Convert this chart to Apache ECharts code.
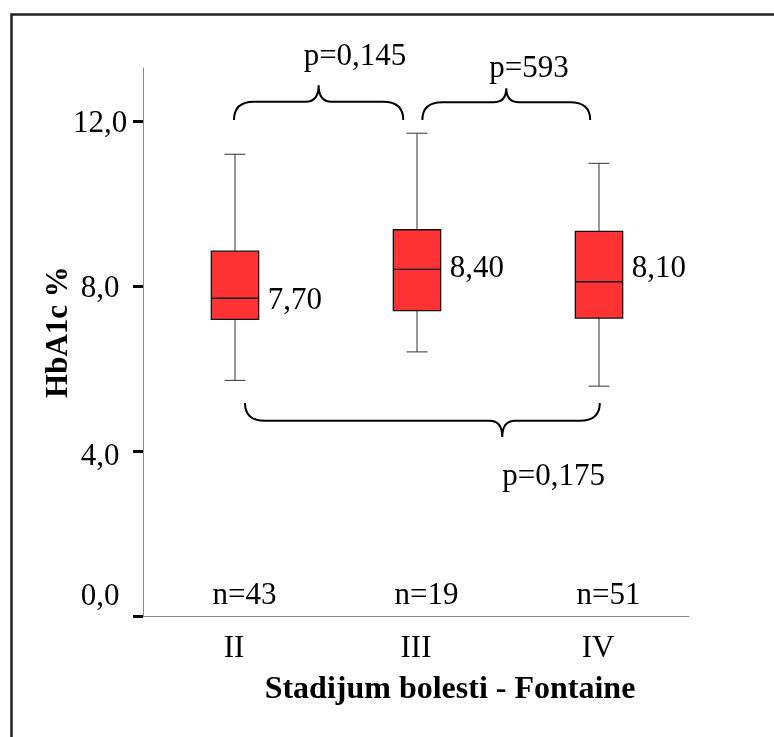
<!DOCTYPE html>
<html><head><meta charset="utf-8">
<script src="https://cdn.jsdelivr.net/npm/echarts@6/dist/echarts.min.js"></script>
<style>html,body{margin:0;padding:0;background:#fff}#c{width:774px;height:737px}</style>
</head><body><div id="c"></div>
<script>
// ---- data ----
const categories = ['II', 'III', 'IV'];
const boxMin = [5.71, 6.40, 5.57];
const boxQ1 = [7.19, 7.40, 7.22];
const boxMedian = [7.70, 8.40, 8.10];
const boxQ3 = [8.84, 9.36, 9.32];
const boxMax = [11.19, 11.70, 10.97];
const groupN = [43, 19, 51];
const yTicks = [0, 4, 8, 12];
const yMax = 13.28;
const pLabels = ['p=0,145', 'p=593', 'p=0,175'];
// brace annotations (category position from/to/tip, value of ends, bar and tip)
const braceFrom = [0.0, 1.035, 0.06];
const braceTo = [0.93, 1.957, 2.01];
const braceTipAt = [0.465, 1.496, 1.474];
const braceEnd = [12.02, 12.02, 5.16];
const braceBar = [12.46, 12.45, 4.73];
const braceTip = [12.86, 12.79, 4.34];

// ---- styles ----
const FONT = "'Liberation Serif','Times New Roman',serif";
const FS = 31;
const medianLabelDy = [3, -1, -13];
const pLabelOffset = [[-15, -28], [-17, -19], [0, 40]];

const fmt = v => v.toFixed(1).replace('.', ',');
const fmt2 = v => v.toFixed(2).replace('.', ',');

const chart = echarts.init(document.getElementById('c'), null, {renderer: 'canvas'});

function renderBox(params, api) {
  const i = api.value(0);
  const band = api.size([1, 0])[0];
  const bw = band * 0.26, cw = band * 0.115;
  const x = api.coord([i, 0])[0] + 1;
  const yMinP = api.coord([i, api.value(1)])[1];
  const yQ1 = api.coord([i, api.value(2)])[1];
  const yMed = api.coord([i, api.value(3)])[1];
  const yQ3 = api.coord([i, api.value(4)])[1];
  const yMaxP = api.coord([i, api.value(5)])[1];
  const wStyle = {stroke: '#333', lineWidth: 1};
  return {
    type: 'group',
    children: [
      {type: 'line', shape: {x1: x, y1: yMaxP, x2: x, y2: yQ3}, style: wStyle},
      {type: 'line', shape: {x1: x, y1: yQ1, x2: x, y2: yMinP}, style: wStyle},
      {type: 'line', shape: {x1: x - cw / 2, y1: yMaxP, x2: x + cw / 2, y2: yMaxP}, style: wStyle},
      {type: 'line', shape: {x1: x - cw / 2, y1: yMinP, x2: x + cw / 2, y2: yMinP}, style: wStyle},
      {type: 'rect', shape: {x: x - bw / 2, y: yQ3, width: bw, height: yQ1 - yQ3},
        style: {fill: '#ff3333', stroke: '#111', lineWidth: 1.3}},
      {type: 'line', shape: {x1: x - bw / 2, y1: yMed, x2: x + bw / 2, y2: yMed}, style: {stroke: '#111', lineWidth: 1.3}},
      {type: 'text', x: x + bw / 2 + 9, y: yMed + medianLabelDy[i],
        style: {text: fmt2(api.value(3)), font: FS + 'px ' + FONT, fill: '#000', align: 'left', verticalAlign: 'middle'}}
    ]
  };
}

function bracePath(x1, x2, xm, yE, yH, yT) {
  const r = 20, t = 13;
  return `M${x1} ${yE} Q${x1} ${yH} ${x1 + r} ${yH} L${xm - t} ${yH} Q${xm} ${yH} ${xm} ${yT} Q${xm} ${yH} ${xm + t} ${yH} L${x2 - r} ${yH} Q${x2} ${yH} ${x2} ${yE}`;
}

function renderBrace(params, api) {
  const k = params.dataIndex;
  const a = api.coord([0, 0]), b = api.coord([1, 0]);
  const catX = f => a[0] + f * (b[0] - a[0]);
  const valY = v => api.coord([0, v])[1];
  const x1 = catX(braceFrom[k]), x2 = catX(braceTo[k]), xm = catX(braceTipAt[k]);
  const yE = valY(braceEnd[k]), yH = valY(braceBar[k]), yT = valY(braceTip[k]);
  return {
    type: 'group',
    children: [
      {type: 'path', shape: {pathData: bracePath(x1, x2, xm, yE, yH, yT)},
        style: {fill: null, stroke: '#000', lineWidth: 2}},
      {type: 'text', x: xm + pLabelOffset[k][0], y: yT + pLabelOffset[k][1],
        style: {text: pLabels[k], font: FS + 'px ' + FONT, fill: '#000', align: 'left', verticalAlign: 'middle'}}
    ]
  };
}

function renderN(params, api) {
  const p = api.coord([api.value(0), 0]);
  return {type: 'text', x: p[0] + 10.5, y: p[1] - 20,
    style: {text: 'n=' + api.value(1), font: FS + 'px ' + FONT, fill: '#000', align: 'center', verticalAlign: 'middle'}};
}

const richBase = {fontFamily: FONT, fontSize: FS, color: '#000'};

chart.setOption({
  animation: false,
  backgroundColor: '#fff',
  grid: {left: 143, right: 85, top: 68, bottom: 121, containLabel: false},
  xAxis: {
    type: 'category',
    data: categories,
    axisLine: {lineStyle: {color: '#8a8a8a', width: 1}},
    axisTick: {alignWithLabel: true, length: 10, lineStyle: {color: '#000', width: 3}},
    axisLabel: {margin: 17, color: '#000', fontFamily: FONT, fontSize: FS},
    name: 'Stadijum bolesti - Fontaine',
    nameLocation: 'middle',
    nameGap: 58,
    nameMoveOverlap: false,
    nameTextStyle: {fontFamily: FONT, fontSize: 32, fontWeight: 'bold', color: '#000', padding: [0, 0, 0, 68]}
  },
  yAxis: {
    type: 'value',
    min: 0, max: yMax, interval: 4,
    splitLine: {show: false},
    axisLine: {show: true, lineStyle: {color: '#8a8a8a', width: 1}},
    axisTick: {show: true, length: 10, customValues: yTicks, lineStyle: {color: '#000', width: 3}},
    axisLabel: {margin: 43, align: 'center', customValues: yTicks, color: '#000', fontFamily: FONT, fontSize: FS,
      formatter: v => (v === 0 ? '{a|' : v === 4 ? '{b|' : '{c|') + fmt(v) + '}',
      rich: {
        a: Object.assign({padding: [0, 0, 38, 0]}, richBase),
        b: Object.assign({padding: [12, 0, 0, 0]}, richBase),
        c: Object.assign({padding: [6, 0, 0, 0]}, richBase)
      }},
    name: 'HbA1c %',
    nameLocation: 'middle',
    nameGap: 69,
    nameRotate: 90,
    nameMoveOverlap: false,
    nameTextStyle: {fontFamily: FONT, fontSize: 31, fontWeight: 'bold', color: '#000', padding: [0, 0, 0, 20]}
  },
  graphic: [{
    type: 'rect', left: 9, top: 12, silent: true, z: 0,
    shape: {width: 900, height: 900},
    style: {fill: null, stroke: '#222', lineWidth: 2.5}
  }],
  series: [{
    type: 'custom',
    renderItem: renderBox,
    encode: {x: 0, y: [1, 2, 3, 4, 5]},
    data: categories.map((c, i) => [i, boxMin[i], boxQ1[i], boxMedian[i], boxQ3[i], boxMax[i]]),
    z: 3
  }, {
    type: 'custom',
    renderItem: renderBrace,
    encode: {x: 0, y: 1},
    data: pLabels.map((t, k) => [0, braceTip[k]]),
    clip: false,
    z: 4
  }, {
    type: 'custom',
    renderItem: renderN,
    encode: {x: 0, y: 1},
    data: groupN.map((n, i) => [i, n]),
    clip: false,
    z: 4
  }]
});
</script>
</body></html>
